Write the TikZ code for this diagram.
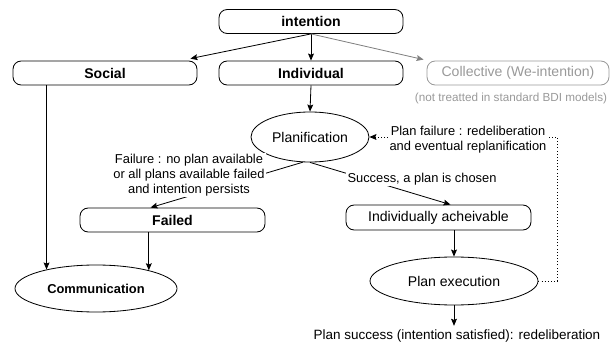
\documentclass[tikz,border=0pt]{standalone}
\usepackage{fontspec}
\setmainfont{Liberation Sans}
\usetikzlibrary{shapes.geometric,arrows.meta,calc}
\definecolor{weGray}{HTML}{999999}
\definecolor{weArrow}{HTML}{808080}

\begin{document}
\begin{tikzpicture}[x=0.03cm,y=-0.03cm,line width=0.7pt,
    >={Stealth[length=6pt,width=5pt,inset=1pt]},
    box/.style={draw,rounded corners=7pt,minimum width=5.52cm,minimum height=0.72cm,
        inner sep=0pt,font=\fontsize{12}{14}\selectfont\bfseries},
    oval/.style={draw,ellipse,inner sep=0pt,font=\fontsize{12}{14}\selectfont},
    lab/.style={fill=white,inner sep=1pt,align=center,font=\fontsize{11}{13}\selectfont}]
\useasboundingbox (0,0) rectangle (610,343);
% boxes
\node[box] (intention) at (311,21.5) {intention};
\node[box] (social) at (105,73) {Social};
\node[box] (indiv) at (311,73) {Individual};
\node[box,draw=weGray,text=weGray,font=\fontsize{12}{14}\selectfont,minimum width=5.46cm] (coll) at (518,73) {Collective (We-intention)};
\node[text=weGray,font=\fontsize{10}{12}\selectfont] (note) at (511,98) {(not treatted in standard BDI models)};
\node[oval,minimum width=3.54cm,minimum height=1.5cm] (plan) at (310,137) {Planification};
\node[box,minimum width=5.55cm] (failed) at (172.5,220) {Failed};
\node[oval,font=\fontsize{11}{13}\selectfont\bfseries,minimum width=4.86cm,minimum height=1.41cm] (comm) at (96,288.5) {Communication};
\node[box,font=\fontsize{12}{14}\selectfont,minimum width=5.55cm,minimum height=0.75cm] (indach) at (438.5,217.5) {Individually acheivable};
\node[oval,minimum width=5.04cm,minimum height=1.44cm] (exec) at (454,281) {Plan execution};
\node[inner sep=0pt,font=\fontsize{11.5}{13}\selectfont] (success) at (457,336.5) {Plan success (intention satisfied): redeliberation};

% arrows
\draw[->] (intention.south) -- ($(social.north east)+(-7,-2)$);
\draw[->] (intention.south) -- (indiv.north);
\draw[->,weArrow] (intention.south) -- ($(coll.north west)+(-3,-1)$);
\draw[->] (indiv.south) -- (plan.north);
\draw[->] (plan.254) -- ($(failed.north)+(-22,0)$);
\draw[->] (plan.south) -- ($(indach.north)+(12,0)$);
\draw[->] (social.south -| comm.159) -- (comm.159);
\draw[->] (failed.south -| comm.19) -- (comm.19);
\draw[->] (indach.south -| exec.north) -- (exec.north);
\draw[->] (exec.south) -- ($(exec.south |- success.north)+(0,-4)$);
\draw[->,dotted] (exec.east) -- ++(19,0) |- (plan.east);

% labels on the arrows
\node[lab] (failtxt) at (189,175) {Failure : no plan available\\or all plans available failed\\and intention persists};
\node[lab] (succtxt) at (422,179) {Success, a plan is chosen};
\node[lab] (replan) at (468,139.5) {Plan failure : redeliberation\\and eventual replanification};
\end{tikzpicture}
\end{document}
